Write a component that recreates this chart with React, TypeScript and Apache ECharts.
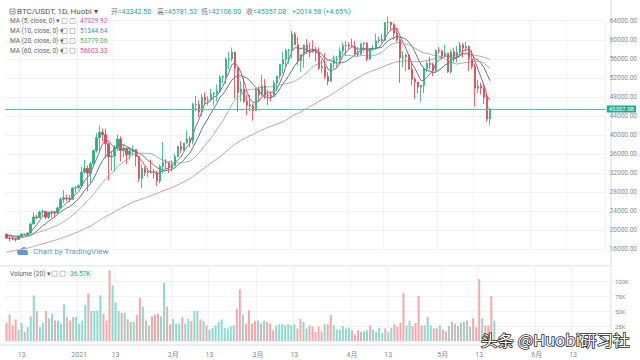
import React, { useEffect, useRef } from 'react';
import * as echarts from 'echarts';

const FONT = 'Roboto, "Noto Sans CJK SC", sans-serif';

// first category date and number of daily categories on the axis
const startDateUTC = [2020, 11, 8];
const dayCount = 200;

// closes before the first visible day (Oct 9 - Dec 7 2020), only used for moving averages
const preCloses = [
  11064, 11296, 11384, 11555, 11429, 11430, 11506, 11322, 11359, 11483,
  11743, 11917, 12823, 12965, 12932, 13108, 13031, 13068, 13654, 13272,
  13438, 13547, 13781, 13737, 13550, 13950, 14133, 15590, 15579, 14818,
  15475, 15328, 15297, 15684, 16291, 16320, 16070, 15957, 16713, 17659,
  17776, 17802, 18655, 18704, 18414, 18368, 19160, 18719, 17150, 17139,
  17719, 18185, 19696, 18765, 19204, 19422, 18650, 19147, 19359, 19166,
];

const opens = [
  19166, 18322, 18250, 18180, 18058, 18803, 19142, 19080, 19418, 21308,
  22805, 22650, 23822, 23950, 22719, 23810, 23900, 23729, 24712, 26493,
  26800, 26650, 26500, 28876, 28923, 29331, 32178, 33000, 31988, 33949,
  36769, 39432, 40582, 40088, 38150, 35404, 35600, 37371, 39144, 36742,
  37100, 35828, 36631, 36950, 35468, 30850, 32945, 32078, 32259, 32254,
  32100, 30366, 33364, 34253, 34150, 33092, 33526, 35466, 37618, 36937,
  38290, 39186, 38796, 46374, 46420, 44807, 47969, 47287, 47400, 48577,
  48750, 49133, 52119, 52300, 55906, 56000, 57408, 54087, 48891, 49676,
  47073, 46276, 46106, 45135, 49587, 48440, 50349, 48374, 48300, 48100,
  50971, 52375, 54884, 55851, 57773, 57900, 61188, 58968, 55605, 56900,
  58913, 57666, 57550, 57450, 57351, 54083, 54340, 52303, 51293, 55025,
  55817, 55900, 57635, 58746, 58850, 58720, 58600, 57051, 56950, 59129,
  59300, 55953, 58077, 58142, 59770, 60007, 59860, 63575, 63700, 63159,
  61334, 60006, 56150, 56400, 56800, 53787, 51690, 51125, 50047, 50400,
  54021, 55033, 54824, 53556, 57750, 57650, 56610, 57213, 53241, 57473,
  56428, 57380, 58928, 58280, 58600, 56000, 54400, 49800, 50300, 49800,
  47900, 43342.5,
];

const highs = [
  19300, 18640, 18557, 18290, 18948, 19411, 19350, 19570, 21560, 23800,
  23285, 24171, 24295, 24102, 23837, 24100, 24000, 24789, 26867, 28422,
  27500, 27410, 28996, 29300, 29600, 33300, 34778, 33600, 34360, 36939,
  40365, 41950, 41380, 41350, 38264, 36628, 37850, 40100, 39700, 37950,
  37300, 37469, 37850, 37000, 35600, 33826, 33456, 32944, 34875, 32921,
  32557, 33783, 38531, 34933, 34342, 34717, 35984, 37662, 38708, 38310,
  40955, 39700, 46794, 48200, 47310, 48678, 48985, 48150, 49707, 49010,
  50620, 52618, 52530, 56368, 57500, 58352, 57508, 54183, 51374, 52041,
  48425, 48394, 46638, 49791, 50200, 52640, 51773, 49448, 49200, 51450,
  52402, 54900, 57387, 58150, 58081, 61844, 61597, 60633, 56938, 58996,
  60129, 59450, 59880, 58592, 58421, 55831, 57200, 53228, 55073, 56700,
  56559, 58400, 59368, 59800, 59461, 60200, 59791, 58500, 59250, 59475,
  59500, 58153, 58894, 61300, 60709, 61200, 63774, 64854, 63800, 63520,
  62500, 60499, 57526, 57076, 56900, 55469, 52131, 51166, 50554, 54356,
  55400, 56428, 55200, 57963, 58458, 57911, 58981, 57219, 57911, 58360,
  58650, 59500, 59300, 59592, 58800, 57900, 55000, 51560, 51000, 50700,
  48600, 45781.52,
];

const lows = [
  18200, 17650, 17911, 17572, 18020, 18711, 18950, 19050, 19288, 21230,
  22350, 22600, 23060, 22350, 22350, 22600, 22703, 23433, 24500, 25700,
  26101, 25880, 26450, 27850, 28624, 28946, 31962, 28130, 29900, 33288,
  36300, 36500, 38720, 35111, 30420, 32531, 32380, 36701, 34408, 35357,
  33850, 34800, 35844, 33400, 30071, 28850, 31390, 31106, 32053, 30837,
  29241, 29842, 31915, 32825, 32000, 32296, 33418, 35362, 36161, 36570,
  38215, 37351, 37988, 45000, 43727, 43994, 46400, 46202, 47014, 46174,
  47003, 48947, 50901, 50710, 53863, 55477, 47622, 44892, 47003, 46674,
  44106, 45000, 43000, 45000, 47047, 48100, 47500, 46300, 47070, 48000,
  49274, 51789, 53005, 54272, 54962, 56078, 58900, 54600, 53271, 54124,
  57023, 56270, 57300, 55450, 53650, 53000, 51700, 50427, 51200, 53950,
  54242, 54890, 57000, 56769, 57935, 58428, 56880, 56478, 56817, 57333,
  55473, 55700, 57654, 57900, 59300, 59380, 59800, 61301, 62020, 60000,
  59580, 50931, 54221, 53329, 53695, 50400, 47500, 48753, 46930, 48800,
  53222, 53813, 52330, 53013, 57052, 56035, 56478, 53046, 52900, 55200,
  55241, 56900, 56235, 57500, 53400, 53800, 46000, 48805, 48500, 46500,
  42800, 42106,
];

const closes = [
  18322, 18250, 18180, 18058, 18803, 19142, 19080, 19418, 21308, 22805,
  22650, 23822, 23950, 22719, 23810, 23900, 23729, 24712, 26493, 26800,
  26650, 26500, 28876, 28923, 29331, 32178, 33000, 31988, 33949, 36769,
  39432, 40582, 40088, 38150, 35404, 35600, 37371, 39144, 36742, 37100,
  35828, 36631, 36950, 35468, 30850, 32945, 32078, 32259, 32254, 32100,
  30366, 33364, 34253, 34150, 33092, 33526, 35466, 37618, 36937, 38290,
  39186, 38796, 46374, 46420, 44807, 47969, 47287, 47400, 48577, 48750,
  49133, 52119, 52300, 55906, 56000, 57408, 54087, 48891, 49676, 47073,
  46276, 46106, 45135, 49587, 48440, 50349, 48374, 48300, 48100, 50971,
  52375, 54884, 55851, 57773, 57900, 61188, 58968, 55605, 56900, 58913,
  57666, 57550, 57450, 57351, 54083, 54340, 52303, 51293, 55025, 55817,
  55900, 57635, 58746, 58850, 58720, 58600, 57051, 56950, 59129, 59300,
  55953, 58077, 58142, 59770, 60007, 59860, 63575, 63700, 63159, 61334,
  60006, 56150, 56400, 56800, 53787, 51690, 51125, 50047, 50400, 54021,
  55033, 54824, 53556, 57750, 57650, 56610, 57213, 53241, 57473, 56428,
  57380, 58928, 58280, 58600, 56000, 54400, 49800, 50300, 49800, 47900,
  43342.5, 45357.08,
];

// volume in thousands of BTC
const volumesK = [
  30, 44, 26, 36, 19, 30, 15, 23, 41, 76,
  50, 23, 30, 50, 38, 45, 34, 34, 29, 61,
  40, 34, 40, 40, 29, 34, 60, 79, 50, 50,
  51, 76, 45, 34, 118, 93, 64, 50, 47, 47,
  36, 32, 32, 43, 72, 57, 34, 26, 41, 44,
  45, 41, 97, 57, 28, 37, 29, 29, 40, 29,
  37, 33, 50, 50, 36, 33, 26, 19, 22, 26,
  32, 36, 22, 21, 24, 26, 54, 86, 44, 29,
  51, 29, 33, 34, 29, 34, 32, 29, 18, 26,
  28, 28, 26, 28, 26, 28, 21, 37, 32, 21,
  26, 24, 15, 24, 16, 28, 28, 43, 26, 19,
  19, 25, 21, 22, 18, 10, 18, 15, 16, 18,
  26, 19, 15, 22, 13, 21, 15, 22, 28, 24,
  30, 80, 26, 34, 25, 30, 75, 26, 26, 40,
  26, 21, 21, 26, 19, 16, 25, 32, 29, 25,
  30, 32, 34, 24, 38, 23, 103, 38, 26, 26,
  75, 34,
];

const tickLabels: Record<string, string> = {
  '2020-12-13': '13',
  '2021-01-01': '2021',
  '2021-01-13': '13',
  '2021-02-01': '2月',
  '2021-02-13': '13',
  '2021-03-01': '3月',
  '2021-03-13': '13',
  '2021-04-01': '4月',
  '2021-04-13': '13',
  '2021-05-01': '5月',
  '2021-05-13': '13',
  '2021-06-01': '6月',
  '2021-06-13': '13',
};

const maPeriods = [5, 10, 20, 60];
const maLineColors = ['#a0609e', '#5b7894', '#9fb8a6', '#d69aa5'];
const maValueColors = ['#d34fd0', '#3f8fd8', '#3fbf72', '#e2568e'];
const maLegendValues = ['47329.92', '51344.64', '53779.06', '56803.33'];

const headerPairs = [
  { label: '开=', value: '43342.50', x: 111 },
  { label: '高=', value: '45781.52', x: 157 },
  { label: '低=', value: '42106.00', x: 201 },
  { label: '收=', value: '45357.08', x: 246 },
];
const headerChange = '+2014.58 (+4.65%)';
const volumeLegendValue = '36.57K';

const UP = '#26b07c';
const DOWN = '#e2434d';
const VOL_UP = '#8ed8cf';
const VOL_DOWN = '#f5a8a9';
const GRID_LINE = '#f0f2f5';

function buildDates(): string[] {
  const out: string[] = [];
  const t0 = Date.UTC(startDateUTC[0], startDateUTC[1], startDateUTC[2]);
  for (let i = 0; i < dayCount; i++) {
    out.push(new Date(t0 + i * 86400000).toISOString().slice(0, 10));
  }
  return out;
}

function movingAverage(n: number): number[] {
  const all = preCloses.concat(closes);
  return closes.map((_, i) => {
    const end = preCloses.length + i;
    let s = 0;
    for (let j = end - n + 1; j <= end; j++) s += all[j];
    return +(s / n).toFixed(2);
  });
}

function txt(x: number, y: number, text: string, fill: string, size: number, extra: any = {}) {
  return {
    type: 'text',
    x,
    y,
    silent: true,
    z: 100,
    style: { text, fill, fontSize: size, fontFamily: FONT, verticalAlign: 'middle', align: 'left', ...extra },
  };
}

export default function App() {
  const ref = useRef<HTMLDivElement>(null);

  useEffect(() => {
    if (!ref.current) return;
    const chart = echarts.init(ref.current, undefined, { renderer: 'svg' });
    const dates = buildDates();
    const isTick = (_i: number, v: string) => Object.prototype.hasOwnProperty.call(tickLabels, v);

    const candles = closes.map((c, i) => {
      const o = opens[i];
      return [o, c, Math.min(lows[i], o, c), Math.max(highs[i], o, c)];
    });
    const vols = volumesK.map((v, i) => ({
      value: v * 1000,
      itemStyle: { color: closes[i] >= opens[i] ? VOL_UP : VOL_DOWN },
    }));
    const last = closes[closes.length - 1];

    const maSeries = maPeriods.map((p, idx) => ({
      type: 'line',
      name: 'MA' + p,
      xAxisIndex: 0,
      yAxisIndex: 0,
      data: movingAverage(p),
      showSymbol: false,
      symbol: 'none',
      clip: false,
      silent: true,
      lineStyle: { color: maLineColors[idx], width: 1 },
      z: 3,
    }));

    const graphics: any[] = [];
    // pane separators and price scale border
    graphics.push({ type: 'line', silent: true, shape: { x1: 0, y1: 266, x2: 611, y2: 266 }, style: { stroke: '#d9dbe0', lineWidth: 1 } });
    graphics.push({ type: 'line', silent: true, shape: { x1: 0, y1: 345, x2: 611, y2: 345 }, style: { stroke: '#d9dbe0', lineWidth: 1 } });
    graphics.push({ type: 'line', silent: true, shape: { x1: 611, y1: 0, x2: 611, y2: 345 }, style: { stroke: '#d9dbe0', lineWidth: 1 } });
    // header
    graphics.push({ type: 'rect', silent: true, shape: { x: 10, y: 9, width: 5, height: 5 }, style: { fill: 'none', stroke: '#777', lineWidth: 0.8 } });
    graphics.push({ type: 'line', silent: true, shape: { x1: 11, y1: 11.5, x2: 14, y2: 11.5 }, style: { stroke: '#777', lineWidth: 0.8 } });
    graphics.push(txt(17, 11.5, 'BTC/USDT, 1D, Huobi ▾', '#555', 8));
    headerPairs.forEach((p) => {
      graphics.push(txt(p.x, 11.5, '{l|' + p.label + '}{v|' + p.value + '}', '#777', 7, {
        rich: { l: { fill: '#777', fontSize: 7, fontFamily: FONT }, v: { fill: '#26a69a', fontSize: 7, fontFamily: FONT } },
      }));
    });
    graphics.push(txt(292, 11.5, headerChange, '#26a69a', 7));
    // MA legend
    const rowsY = [21, 31, 41, 50.7];
    maPeriods.forEach((p, idx) => {
      const y = rowsY[idx];
      graphics.push(txt(10, y, 'MA (' + p + ', close, 0) ▾', '#666', 6.5));
      graphics.push({ type: 'rect', silent: true, shape: { x: 62, y: y - 2.5, width: 5, height: 5 }, style: { fill: 'none', stroke: '#aaa', lineWidth: 0.7 } });
      graphics.push({ type: 'rect', silent: true, shape: { x: 70, y: y - 2.5, width: 5, height: 5 }, style: { fill: 'none', stroke: '#aaa', lineWidth: 0.7 } });
      graphics.push(txt(80, y, maLegendValues[idx], maValueColors[idx], 6.5));
    });
    // volume legend
    graphics.push(txt(10, 273.7, 'Volume (20) ▾', '#666', 6.5));
    graphics.push({ type: 'rect', silent: true, shape: { x: 52, y: 271.2, width: 5, height: 5 }, style: { fill: 'none', stroke: '#aaa', lineWidth: 0.7 } });
    graphics.push({ type: 'rect', silent: true, shape: { x: 60, y: 271.2, width: 5, height: 5 }, style: { fill: 'none', stroke: '#aaa', lineWidth: 0.7 } });
    graphics.push(txt(70, 273.7, volumeLegendValue, '#26a69a', 6.5));
    // Chart by TradingView
    graphics.push({ type: 'circle', silent: true, shape: { cx: 20, cy: 252, r: 3 }, style: { fill: '#5b9bd5' } });
    graphics.push({ type: 'circle', silent: true, shape: { cx: 24, cy: 250.5, r: 3.5 }, style: { fill: '#5b9bd5' } });
    graphics.push({ type: 'rect', silent: true, shape: { x: 18, y: 252, width: 10, height: 3 }, style: { fill: '#5b9bd5' } });
    graphics.push(txt(33, 251.5, 'Chart by TradingView', '#5b9bd5', 8));
    // watermark
    const wm: any = txt(0, 0, '头条 @Huobi研习社', '#ffffff', 15, {
      fontFamily: '"Noto Sans CJK SC", sans-serif',
      stroke: '#2a2a2a',
      lineWidth: 1.5,
    });
    wm.x = 481;
    wm.y = 340;
    wm.scaleX = 1.1;
    graphics.push(wm);

    const option: any = {
      animation: false,
      backgroundColor: '#ffffff',
      textStyle: { fontFamily: FONT },
      grid: [
        { left: 5, right: 29, top: 20.7, height: 228.6 },
        { left: 5, right: 29, top: 266, height: 75 },
      ],
      xAxis: [
        {
          type: 'category', gridIndex: 0, data: dates, boundaryGap: true,
          axisLine: { show: false }, axisTick: { show: false }, axisLabel: { show: false },
          splitLine: { show: true, interval: isTick, lineStyle: { color: GRID_LINE } },
        },
        {
          type: 'category', gridIndex: 1, data: dates, boundaryGap: true, offset: 4,
          axisLine: { show: false }, axisTick: { show: false },
          axisLabel: {
            show: true, interval: isTick, formatter: (v: string) => tickLabels[v] || '',
            fontSize: 7, color: '#8a8a8a', margin: 6, fontFamily: FONT,
          },
          splitLine: { show: true, interval: isTick, lineStyle: { color: GRID_LINE } },
        },
      ],
      yAxis: [
        {
          type: 'value', gridIndex: 0, position: 'right', min: 16000, max: 64000, interval: 4000,
          axisLine: { show: false }, axisTick: { show: false },
          axisLabel: { fontSize: 6.5, color: '#8a8a8a', margin: 4, fontFamily: FONT, formatter: (v: number) => v.toFixed(2) },
          splitLine: { lineStyle: { color: GRID_LINE } },
        },
        {
          type: 'value', gridIndex: 1, position: 'right', min: 0, max: 125000, interval: 25000,
          axisLine: { show: false }, axisTick: { show: false },
          axisLabel: {
            fontSize: 6, color: '#8a8a8a', margin: 4, fontFamily: FONT,
            formatter: (v: number) => (v > 0 && v < 125000 ? v / 1000 + 'K' : ''),
          },
          splitLine: { lineStyle: { color: GRID_LINE } },
        },
      ],
      series: [
        {
          type: 'candlestick',
          xAxisIndex: 0,
          yAxisIndex: 0,
          data: candles,
          barWidth: 1.8,
          clip: false,
          silent: true,
          z: 4,
          itemStyle: { color: UP, color0: DOWN, borderColor: UP, borderColor0: DOWN, borderWidth: 0.8 },
          markLine: {
            silent: true,
            symbol: ['none', 'none'],
            data: [{ yAxis: last }],
            lineStyle: { color: '#5cc0b1', width: 1, type: 'solid' },
            label: {
              show: true, position: 'end', distance: 1, formatter: last.toFixed(2),
              color: '#fff', backgroundColor: '#22a98f', fontSize: 6, fontFamily: FONT,
              padding: [0.5, 2, 0, 2], lineHeight: 6.5, offset: [0, -0.5],
            },
          },
        },
        ...maSeries,
        {
          type: 'bar',
          xAxisIndex: 1,
          yAxisIndex: 1,
          data: vols,
          barWidth: 2,
          silent: true,
        },
      ],
      graphic: graphics,
    };

    chart.setOption(option);
    return () => chart.dispose();
  }, []);

  return (
    <div
      ref={ref}
      style={{ position: 'fixed', left: 0, top: 0, width: 640, height: 360, background: '#fff' }}
    />
  );
}
